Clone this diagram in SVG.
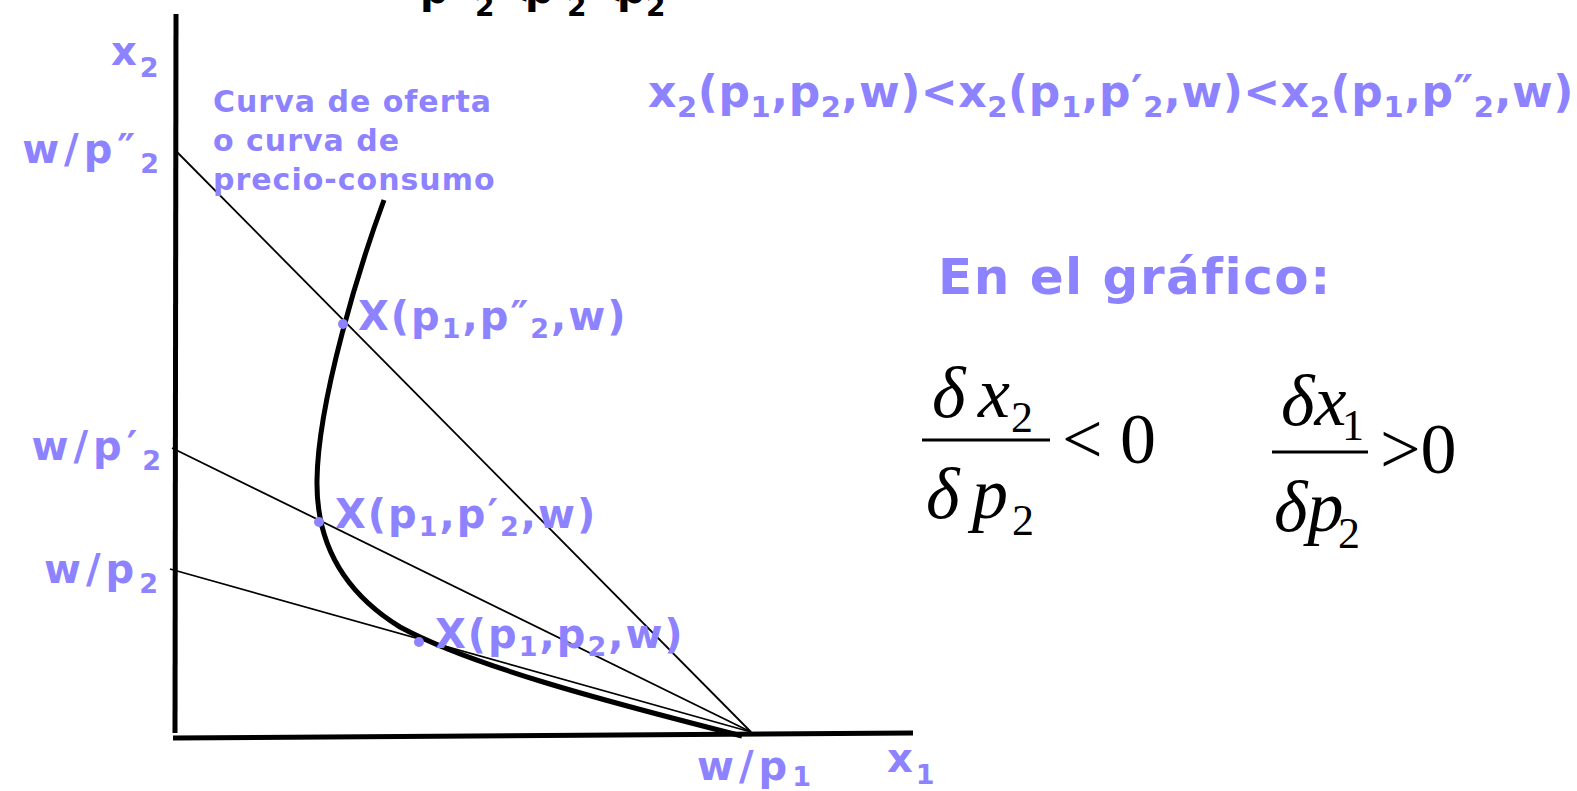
<svg xmlns="http://www.w3.org/2000/svg" width="1577" height="791" viewBox="0 0 1577 791">
<style>
.lab{font-family:"DejaVu Sans","Verdana",sans-serif;font-weight:bold;fill:#8D82FF;}
.blk{font-family:"DejaVu Sans","Verdana",sans-serif;font-weight:bold;fill:#000;}
.math{font-family:"Liberation Serif","Times New Roman",serif;fill:#000;}
.it{font-style:italic;}
.axis{stroke:#000;stroke-width:5;fill:none;}
.budget{stroke:#000;stroke-width:1.8;fill:none;}
.curve{stroke:#000;stroke-width:5;fill:none;stroke-linecap:butt;}
.dot{fill:#8D82FF;}
.pt{font-size:40px;letter-spacing:2px;}
.wp{font-size:40px;letter-spacing:5px;}
</style>
<rect width="1577" height="791" fill="#fff"/>
<g id="connectors">
<line class="axis" x1="176" y1="14" x2="175" y2="733"/>
<line class="axis" x1="173" y1="738" x2="913" y2="733"/>
<line class="budget" x1="177" y1="152" x2="751" y2="732"/>
<line class="budget" x1="172" y1="448" x2="751" y2="732"/>
<line class="budget" x1="170" y1="569" x2="751" y2="732"/>
<path class="curve" d="M384,200 C360,265 318,400 317,480 C316,540 340,590 400,627 C470,665 600,700 742,736"/>
</g>
<g id="top-prices">
<text class="blk" font-size="40" y="3"><tspan x="420">p″</tspan><tspan x="475" dy="13" font-size="28">2</tspan><tspan x="497" dy="-13">&lt;</tspan><tspan x="525">p′</tspan><tspan x="567" dy="13" font-size="28">2</tspan><tspan x="590" dy="-13">&lt;</tspan><tspan x="617">p</tspan><tspan x="646" dy="13" font-size="28">2</tspan></text>
</g>
<g id="x2-axis-label">
<text class="lab" font-size="40" x="111" y="65">x<tspan dy="12" font-size="27" dx="3">2</tspan></text>
</g>
<g id="x1-axis-label">
<text class="lab" font-size="40" x="887" y="772">x<tspan dy="12" font-size="27" dx="3">1</tspan></text>
</g>
<g id="w-p1">
<text class="lab wp" x="697" y="780">w/p<tspan dy="6" font-size="27">1</tspan></text>
</g>
<g id="w-p2pp">
<text class="lab wp" x="164" y="163" text-anchor="end">w/p″<tspan dy="10" font-size="27">2</tspan></text>
</g>
<g id="w-p2p">
<text class="lab wp" x="166" y="460" text-anchor="end">w/p′<tspan dy="10" font-size="27">2</tspan></text>
</g>
<g id="w-p2">
<text class="lab wp" x="163" y="583" text-anchor="end">w/p<tspan dy="10" font-size="27">2</tspan></text>
</g>
<g id="offer-curve-label">
<text class="lab" font-size="30" letter-spacing="1"><tspan x="213" y="112">Curva de oferta</tspan><tspan x="213" y="151">o curva de</tspan><tspan x="213" y="190">precio-consumo</tspan></text>
</g>
<g id="point-pp">
<circle class="dot" cx="343" cy="324" r="5"/>
<text class="lab pt" x="358" y="330">X(p<tspan dy="8" font-size="27">1</tspan><tspan dy="-8">,p″</tspan><tspan dy="8" font-size="27">2</tspan><tspan dy="-8">,w)</tspan></text>
</g>
<g id="point-p">
<circle class="dot" cx="319" cy="522" r="5"/>
<text class="lab pt" x="335" y="528">X(p<tspan dy="8" font-size="27">1</tspan><tspan dy="-8">,p′</tspan><tspan dy="8" font-size="27">2</tspan><tspan dy="-8">,w)</tspan></text>
</g>
<g id="point-base">
<circle class="dot" cx="419" cy="642" r="5"/>
<text class="lab pt" x="435" y="648">X(p<tspan dy="8" font-size="27">1</tspan><tspan dy="-8">,p</tspan><tspan dy="8" font-size="27">2</tspan><tspan dy="-8">,w)</tspan></text>
</g>
<g id="inequality">
<text class="lab" font-size="44" letter-spacing="0.6" x="648" y="107">x<tspan dy="10" font-size="29">2</tspan><tspan dy="-10">(p</tspan><tspan dy="10" font-size="29">1</tspan><tspan dy="-10">,p</tspan><tspan dy="10" font-size="29">2</tspan><tspan dy="-10">,w)&lt;x</tspan><tspan dy="10" font-size="29">2</tspan><tspan dy="-10">(p</tspan><tspan dy="10" font-size="29">1</tspan><tspan dy="-10">,p′</tspan><tspan dy="10" font-size="29">2</tspan><tspan dy="-10">,w)&lt;x</tspan><tspan dy="10" font-size="29">2</tspan><tspan dy="-10">(p</tspan><tspan dy="10" font-size="29">1</tspan><tspan dy="-10">,p″</tspan><tspan dy="10" font-size="29">2</tspan><tspan dy="-10">,w)</tspan></text>
</g>
<g id="en-el-grafico">
<text class="lab" font-size="50" letter-spacing="1.5" x="938" y="294">En el gráfico:</text>
</g>
<g id="deriv-x2">
<text class="math it" font-size="72" x="932" y="417">δ</text>
<text class="math it" font-size="72" x="978" y="417">x</text>
<text class="math" font-size="44" x="1011" y="432">2</text>
<line x1="922" y1="440" x2="1050" y2="440" stroke="#000" stroke-width="3"/>
<text class="math it" font-size="72" x="926" y="518">δ</text>
<text class="math it" font-size="72" x="972" y="518">p</text>
<text class="math" font-size="44" x="1012" y="535">2</text>
<text class="math" font-size="72" x="1062" y="463">&lt;</text>
<text class="math" font-size="72" x="1120" y="463">0</text>
</g>
<g id="deriv-x1">
<text class="math it" font-size="72" x="1281" y="425">δx</text>
<text class="math" font-size="44" x="1342" y="440">1</text>
<line x1="1272" y1="452" x2="1368" y2="452" stroke="#000" stroke-width="3"/>
<text class="math it" font-size="72" x="1274" y="531">δp</text>
<text class="math" font-size="44" x="1338" y="548">2</text>
<text class="math" font-size="72" x="1380" y="473">&gt;0</text>
</g>
</svg>
